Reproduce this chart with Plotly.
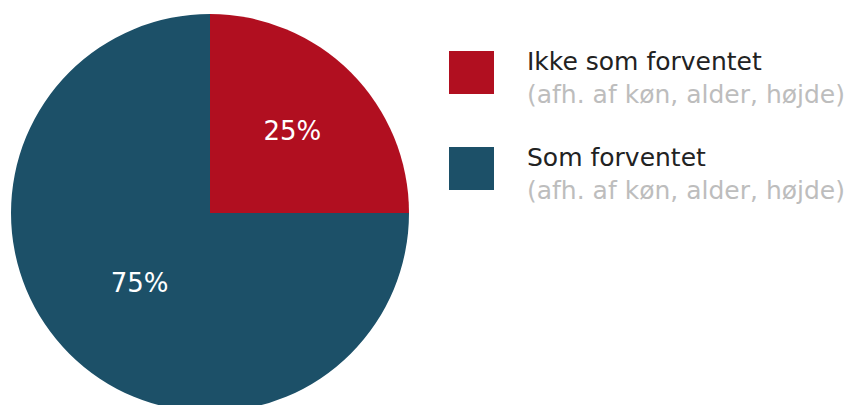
import plotly.graph_objects as go

# Data
labels = ["Ikke som forventet", "Som forventet"]
sublabels = ["(afh. af køn, alder, højde)", "(afh. af køn, alder, højde)"]
values = [25, 75]
colors = ["#B10F20", "#1C5068"]

W, H = 851, 420  # figure slightly taller than window; bottom of pie is cut like the reference
FONT = "DejaVu Sans"

def px(x):
    return x / W

def py(y):
    return 1 - y / H

fig = go.Figure(go.Pie(
    labels=labels,
    values=values,
    marker=dict(colors=colors, line=dict(width=0)),
    sort=False,
    direction="clockwise",
    rotation=0,
    textinfo="percent",
    texttemplate="%{percent:.0%}",
    textposition="inside",
    insidetextfont=dict(family=FONT, size=26, color="white"),
    hoverinfo="label+percent",
    showlegend=False,
    domain=dict(x=[px(11), px(409)], y=[py(412), py(14)]),
))

shapes = []
annotations = []
tops = [51, 147]
for i, (lab, sub, col) in enumerate(zip(labels, sublabels, colors)):
    t = tops[i]
    shapes.append(dict(type="rect", xref="paper", yref="paper",
                       x0=px(449), x1=px(494), y0=py(t + 43), y1=py(t),
                       fillcolor=col, line=dict(width=0)))
    annotations.append(dict(
        xref="paper", yref="paper", x=px(525), y=py(t + 27),
        xanchor="left", yanchor="middle", align="left", showarrow=False,
        text=f"{lab}<br><span style='color:#BDBDBD'>{sub}</span>",
        font=dict(family=FONT, size=25, color="#222222"),
    ))

fig.update_layout(
    width=W, height=H,
    margin=dict(l=0, r=0, t=0, b=0),
    paper_bgcolor="white", plot_bgcolor="white",
    shapes=shapes, annotations=annotations,
    font=dict(family=FONT),
)

fig.write_html(
    "out.html",
    config={"displayModeBar": False},
    post_script="document.body.style.margin='0';document.body.style.overflow='hidden';document.documentElement.style.overflow='hidden';",
)
